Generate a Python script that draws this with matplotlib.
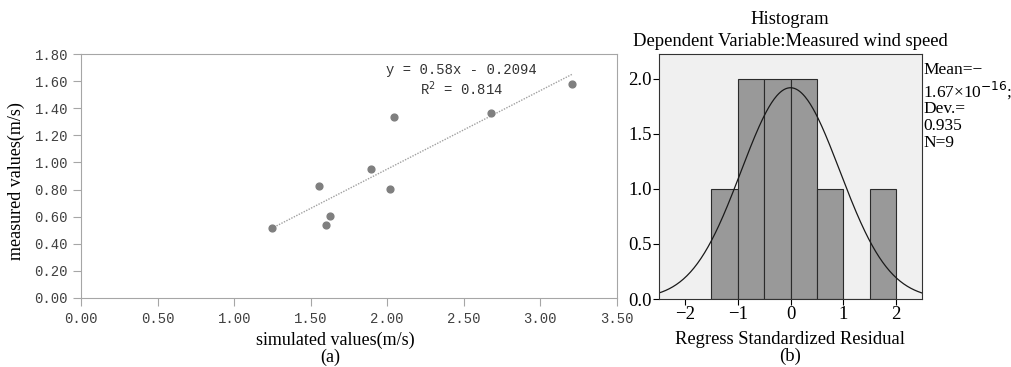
import numpy as np
import matplotlib.pyplot as plt

# (a) simulated vs measured wind speed
simulated = [1.244, 1.555, 1.603, 1.627, 1.895, 2.020, 2.047, 2.679, 3.211]
measured = [0.513, 0.823, 0.535, 0.602, 0.949, 0.806, 1.334, 1.368, 1.578]
slope, intercept = 0.58, -0.2094
r2 = 0.814

# (b) histogram of standardized residuals
bin_edges = [-1.5, -1.0, -0.5, 0.0, 0.5, 1.0, 1.5, 2.0]
bin_counts = [1, 2, 2, 2, 1, 0, 1]
res_mean, res_sd, n_obs = 0.0, 0.935, 9

serif = ['Liberation Serif', 'DejaVu Serif']
mono = ['Liberation Mono', 'DejaVu Sans Mono']
W, H = 1011, 367

fig = plt.figure(figsize=(W / 100, H / 100), dpi=100)

# ---- left panel ----
ax1 = fig.add_axes([81.3 / W, 1 - 297.7 / H, 535.2 / W, 243.4 / H])
ax1.scatter(simulated, measured, s=24, color='#7f7f7f', zorder=3)
xs = np.array([min(simulated), max(simulated)])
ax1.plot(xs, slope * xs + intercept, color='#a0a0a0', lw=1.0, ls=(0, (1, 1)))
ax1.set_xlim(0, 3.5)
ax1.set_ylim(0, 1.8)
xt = np.arange(0, 3.51, 0.5)
yt = np.arange(0, 1.81, 0.2)
ax1.set_xticks(xt)
ax1.set_yticks(yt)
ax1.set_xticklabels(['%.2f' % v for v in xt], family=mono, fontsize=10)
ax1.set_yticklabels(['%.2f' % v for v in yt], family=mono, fontsize=10)
for sp in ax1.spines.values():
    sp.set_color('#a6a6a6')
ax1.tick_params(colors='#a6a6a6', labelcolor='#404040', length=6, direction='out')
ax1.tick_params(axis='x', pad=4)
fig.text(386 / W, 1 - 70 / H, 'y = 0.58x - 0.2094', family=mono, fontsize=10,
         color='#333333', va='center')
fig.text(420 / W, 1 - 89 / H, 'R$^2$ = %.3f' % r2, family=mono, fontsize=10,
         color='#333333', va='center')
fig.text(16 / W, 1 - 181 / H, 'measured values(m/s)', family=serif, fontsize=13,
         rotation=90, ha='center', va='center')
fig.text(335 / W, 1 - 340 / H, 'simulated values(m/s)', family=serif, fontsize=13,
         ha='center', va='center')
fig.text(330 / W, 1 - 357 / H, '(a)', family=serif, fontsize=13, ha='center', va='center')

# ---- right panel ----
ax2 = fig.add_axes([658.7 / W, 1 - 299 / H, 263.6 / W, 244.7 / H])
ax2.set_facecolor('#f0f0f0')
ax2.hist(bin_edges[:-1], bins=bin_edges, weights=bin_counts, color='#999999',
         edgecolor='#2b2b2b', linewidth=0.8)
xg = np.linspace(-2.5, 2.5, 300)
width = bin_edges[1] - bin_edges[0]
yg = n_obs * width / (res_sd * np.sqrt(2 * np.pi)) * np.exp(-0.5 * ((xg - res_mean) / res_sd) ** 2)
ax2.plot(xg, yg, color='#1a1a1a', lw=0.9)
ax2.set_xlim(-2.5, 2.5)
ax2.set_ylim(0, 2.224)
ax2.set_xticks([-2, -1, 0, 1, 2])
ax2.set_xticklabels(['\u22122', '\u22121', '0', '1', '2'], family=serif, fontsize=13.5)
ax2.set_yticks([0, 0.5, 1.0, 1.5, 2.0])
ax2.set_yticklabels(['0.0', '0.5', '1.0', '1.5', '2.0'], family=serif, fontsize=13.5)
ax2.tick_params(length=4, width=0.8, pad=1)
for sp in ax2.spines.values():
    sp.set_color('#333333')
    sp.set_linewidth(0.8)
fig.text(790 / W, 1 - 20 / H, 'Histogram', family=serif, fontsize=13.4,
         ha='center', va='center')
fig.text(790 / W, 1 - 41 / H, 'Dependent Variable:Measured wind speed', family=serif,
         fontsize=13.4, ha='center', va='center')
fig.text(923 / W, 1 - 62 / H, 'Mean=\u2212\n1.67\u00d710$^{-16}$;\nDev.=\n0.935\nN=9',
         family=serif, fontsize=12.5, va='top', ha='left', linespacing=1.05)
fig.text(790 / W, 1 - 340 / H, 'Regress Standardized Residual', family=serif,
         fontsize=13.4, ha='center', va='center')
fig.text(790 / W, 1 - 356 / H, '(b)', family=serif, fontsize=13.4, ha='center', va='center')

fig.savefig('out.png', dpi=100)
